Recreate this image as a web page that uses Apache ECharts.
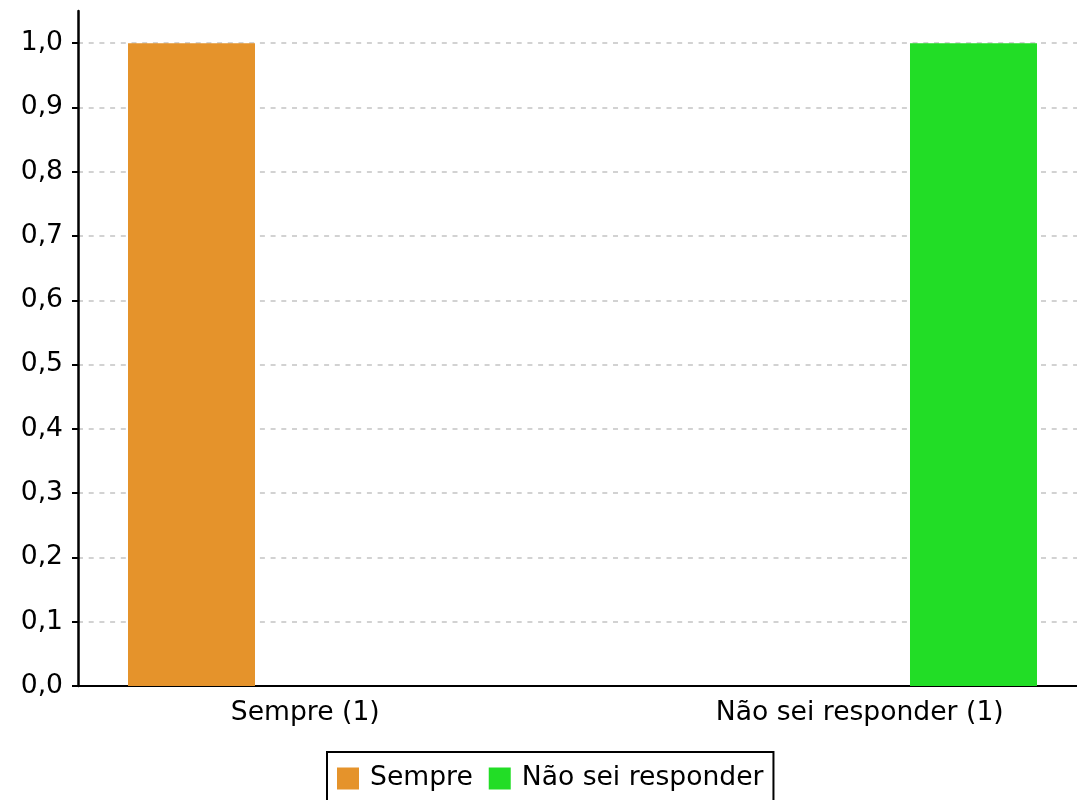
<!DOCTYPE html>
<html>
<head>
<meta charset="utf-8">
<script src="https://cdn.jsdelivr.net/npm/echarts@6/dist/echarts.min.js"></script>
<style>
  html, body { margin: 0; padding: 0; background: #fff; }
  #chart { width: 1077px; height: 800px; }
</style>
</head>
<body>
<div id="chart"></div>
<script>
// Answer categories and counts
const categories = ['Sempre (1)', 'Não sei responder (1)'];
const seriesNames = ['Sempre', 'Não sei responder'];
const sempreValues = [1, null];
const naoSeiValues = [null, 1];
const yTicks = [0, 0.1, 0.2, 0.3, 0.4, 0.5, 0.6, 0.7, 0.8, 0.9, 1.0];
const colors = ['#e5932b', '#22dd26'];

const FONT = 'DejaVu Sans';
const FS = 26.6;
const fmt = v => v.toFixed(1).replace('.', ',');

const chart = echarts.init(document.getElementById('chart'), null, { renderer: 'canvas' });

chart.setOption({
  animation: false,
  backgroundColor: '#ffffff',
  textStyle: { fontFamily: FONT },
  grid: {
    left: 78, width: 1009, top: 11, bottom: 114,
    containLabel: false,
    outerBoundsMode: 'none'
  },
  xAxis: {
    type: 'category',
    data: categories,
    axisLine: { show: true, lineStyle: { color: '#000', width: 2 } },
    axisTick: { show: false },
    axisLabel: {
      margin: 14,
      color: '#000',
      fontFamily: FONT,
      fontSize: FS,
      formatter: (v, i) => (i === 0 ? '{l|' + v + '}' : '{r|' + v + '}'),
      rich: {
        l: { fontFamily: FONT, fontSize: FS, color: '#000', padding: [0, 50, 0, 0] },
        r: { fontFamily: FONT, fontSize: FS, color: '#000', padding: [0, 0, 0, 50] }
      }
    },
    splitLine: { show: false }
  },
  yAxis: {
    type: 'value',
    min: 0,
    max: 1.05,
    interval: 0.1,
    axisLine: { show: true, lineStyle: { color: '#000', width: 2.5 } },
    axisTick: { show: true, length: 6, customValues: yTicks, lineStyle: { color: '#000', width: 2 } },
    axisLabel: {
      customValues: yTicks,
      margin: 15,
      color: '#000',
      fontFamily: FONT,
      fontSize: FS,
      padding: [3, 0, 0, 0],
      formatter: v => fmt(v)
    },
    splitLine: {
      show: true,
      lineStyle: { color: '#c4c4c4', width: 1.5, type: [5, 5.7] }
    }
  },
  legend: {
    data: seriesNames,
    left: 327,
    top: 752,
    orient: 'horizontal',
    icon: 'rect',
    itemWidth: 22,
    itemHeight: 22,
    itemGap: 16,
    padding: [13, 10, 13, 10],
    borderColor: '#000',
    borderWidth: 2,
    borderRadius: 0,
    textStyle: { fontFamily: FONT, fontSize: FS, color: '#000', padding: [0, 0, 0, 6] }
  },
  series: [
    {
      name: seriesNames[0],
      type: 'bar',
      data: sempreValues,
      barWidth: 127,
      barGap: '118.5%',
      itemStyle: { color: colors[0] }
    },
    {
      name: seriesNames[1],
      type: 'bar',
      data: naoSeiValues,
      barWidth: 127,
      barGap: '118.5%',
      itemStyle: { color: colors[1] }
    }
  ]
});
</script>
</body>
</html>
